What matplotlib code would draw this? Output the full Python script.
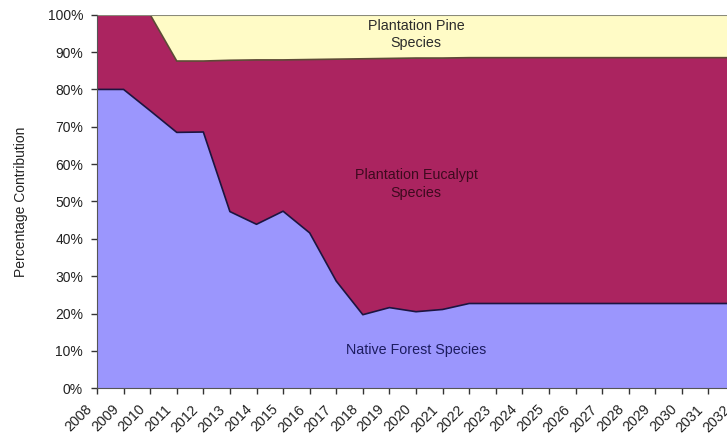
import numpy as np
import matplotlib
matplotlib.use('Agg')
import matplotlib.pyplot as plt
import matplotlib.transforms as mtransforms
from matplotlib.ticker import MultipleLocator, FuncFormatter

plt.rcParams['font.family'] = ['Liberation Sans', 'DejaVu Sans']

# percentage contribution by year
years = list(range(2008, 2033))
native = [80.0, 80.0, 74.3, 68.5, 68.6, 47.3, 43.9, 47.4, 41.6, 28.7, 19.7, 21.6, 20.5, 21.1,
          22.7, 22.7, 22.7, 22.7, 22.7, 22.7, 22.7, 22.7, 22.7, 22.7, 22.7]
native_eucalypt = [100.0, 100.0, 100.0, 87.6, 87.6, 87.8, 87.9, 87.9, 88.0, 88.1, 88.2, 88.3, 88.4, 88.4,
                   88.5, 88.5, 88.5, 88.5, 88.5, 88.5, 88.5, 88.5, 88.5, 88.5, 88.5]
eucalypt = [t - n for t, n in zip(native_eucalypt, native)]
pine = [100.0 - t for t in native_eucalypt]

fig = plt.figure(figsize=(7.27, 4.38), dpi=100)
ax = fig.add_axes([97/727, 1 - 388.3/438, (735 - 97)/727, (388.3 - 14.7)/438])

ax.stackplot(years, native, eucalypt, pine,
             colors=['#9b96fd', '#ab2460', '#fffbc6'], linewidth=0)
ax.plot(years, native, color='#1c1440', lw=1.2)
ax.plot(years, native_eucalypt, color='#5e4a36', lw=1.2)
ax.axhline(100, color='#8a8a7a', lw=1.5)

ax.set_xlim(2008, 2032)
ax.set_ylim(0, 100)
ax.set_xticks(years)
ax.set_xticklabels([str(y) for y in years], rotation=45, ha='right',
                   rotation_mode='anchor', fontsize=10.3)

ax.yaxis.set_major_locator(MultipleLocator(10))
ax.yaxis.set_major_formatter(FuncFormatter(lambda v, p: '{:.0f}%'.format(v)))
ax.tick_params(axis='y', labelsize=10, length=4, width=1, color='#333333', pad=6, labelcolor='#222222')
ax.tick_params(axis='x', length=4, width=1, color='#333333', pad=1, labelcolor='#222222')

# shift year labels left/down like the original (after tick_params, which resets transforms)
shift = mtransforms.ScaledTranslation(-12/100, -7/100, fig.dpi_scale_trans)
for tick in ax.xaxis.get_major_ticks():
    tick.label1.set_transform(tick.label1.get_transform() + shift)

for side in ['top', 'right']:
    ax.spines[side].set_visible(False)
ax.spines['left'].set_color('#555555')
ax.spines['bottom'].set_color('#555555')

ax.set_ylabel('Percentage Contribution', fontsize=10, color='#222222', labelpad=14)

ax.text(2020.0, 94.7, 'Plantation Pine\nSpecies', ha='center', va='center',
        fontsize=10.3, color='#2b2b2b', linespacing=1.3)
ax.text(2020.0, 54.7, 'Plantation Eucalypt\nSpecies', ha='center', va='center',
        fontsize=10.3, color='#3d0a1e', linespacing=1.3)
ax.text(2020.0, 10.3, 'Native Forest Species', ha='center', va='center',
        fontsize=10.3, color='#1c1c60')

fig.savefig('out.png', dpi=100)
